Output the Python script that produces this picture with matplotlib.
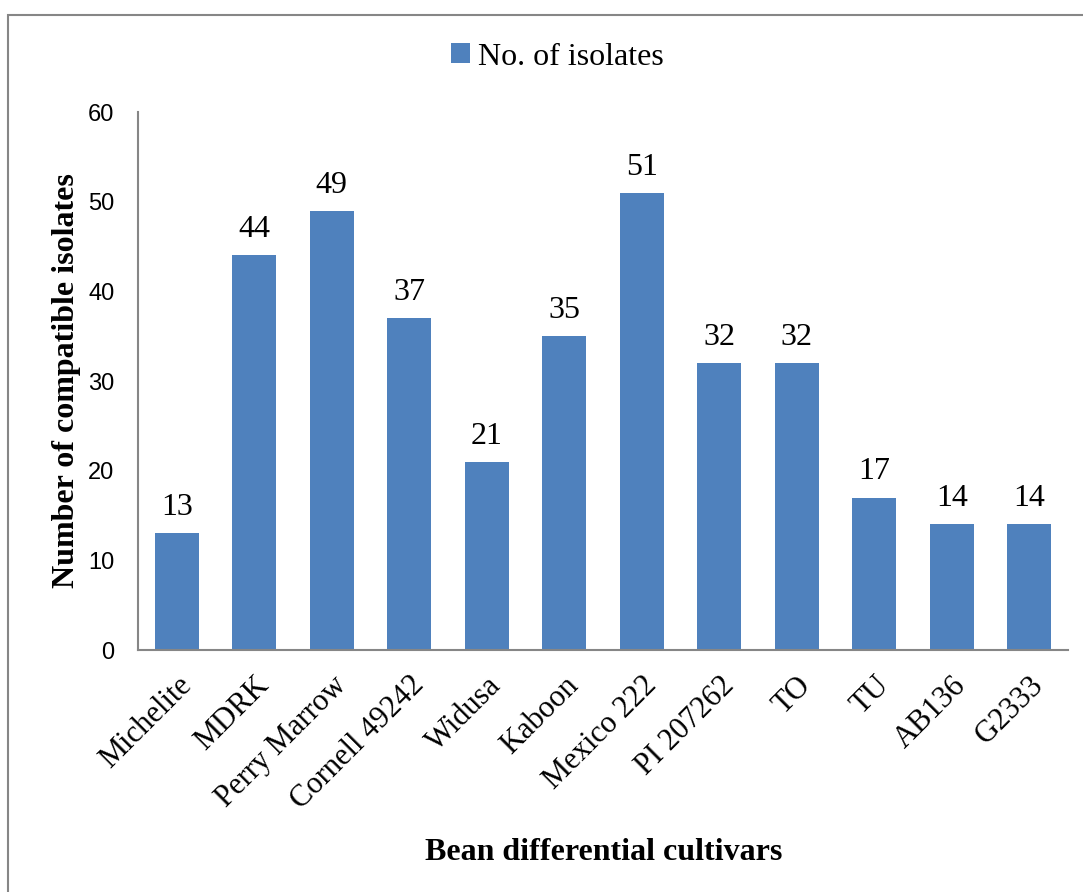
import matplotlib
matplotlib.use("Agg")
import matplotlib.pyplot as plt
from matplotlib.patches import Rectangle

# cultivars and number of compatible isolates
cultivars = ["Michelite", "MDRK", "Perry Marrow", "Cornell 49242", "Widusa",
             "Kaboon", "Mexico 222", "PI 207262", "TO", "TU", "AB136", "G2333"]
isolates = [13, 44, 49, 37, 21, 35, 51, 32, 32, 17, 14, 14]

serif = "Liberation Serif"
bar_color = "#4F81BD"

fig = plt.figure(figsize=(10.83, 8.92), dpi=100)
ax = fig.add_axes([0.1274, 0.2713, 0.8587, 0.6031])

x = range(len(cultivars))
bars = ax.bar(x, isolates, width=0.57, color=bar_color, label="No. of isolates")

for b, v in zip(bars, isolates):
    ax.annotate(str(v), (b.get_x() + b.get_width() / 2, v), xytext=(0, 8),
                textcoords="offset points", ha="center", va="bottom",
                fontsize=23, family=serif)

ax.set_xlim(-0.5, len(cultivars) - 0.5)
ax.set_ylim(0, 60)
ax.set_yticks(range(0, 61, 10))
ax.tick_params(axis="y", length=0, pad=17, labelsize=17)
for t in ax.get_yticklabels():
    t.set_family("Liberation Sans")
ax.set_xticks(list(x))
ax.set_xticklabels(cultivars, rotation=45, ha="right", rotation_mode="anchor",
                   fontsize=22, family=serif)
ax.tick_params(axis="x", length=0, pad=15)

for s in ["top", "right"]:
    ax.spines[s].set_visible(False)
for s in ["left", "bottom"]:
    ax.spines[s].set_color("#868686")
    ax.spines[s].set_linewidth(1.5)

ax.set_ylabel("Number of compatible isolates", fontsize=23, family=serif,
              fontweight="bold", labelpad=5)
fig.text(0.557, 0.044, "Bean differential cultivars", ha="center", va="center",
         fontsize=23, family=serif, fontweight="bold")

leg = fig.legend(loc="center", bbox_to_anchor=(0.515, 0.936), frameon=False,
                 handlelength=0.6, handleheight=0.6, handletextpad=0.25,
                 prop={"family": serif, "size": 23})

# outer chart border
fig.patches.append(Rectangle((8 / 1083, -0.05), 1.1, 0.05 + (892 - 15) / 892,
                             transform=fig.transFigure, fill=False,
                             edgecolor="#868686", linewidth=1.5))

fig.savefig("out.png", dpi=100)
